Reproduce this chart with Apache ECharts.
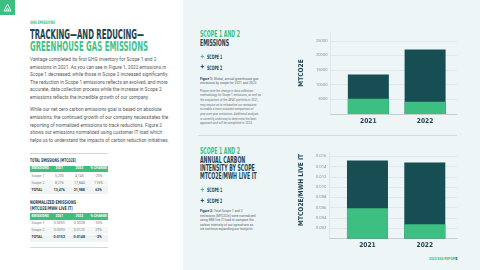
<!DOCTYPE html>
<html><head><meta charset="utf-8">
<script src="https://cdn.jsdelivr.net/npm/echarts@6.0.0/dist/echarts.min.js"></script>
<style>
html,body{margin:0;padding:0;background:#fff;}
#page{position:relative;width:480px;height:270px;overflow:hidden;background:#fff;}
.t{position:absolute;white-space:nowrap;line-height:1;transform-origin:0 50%;}
.r{position:absolute;}
#chart{position:absolute;left:290px;top:0;width:190px;height:270px;z-index:10;}
</style></head>
<body><div id="page"><div id="chart"></div></div>
<script>
// ---------- data ----------
const years = ['2021', '2022'];
const scope1Abs = [5200, 4145];
const scope2Abs = [8276, 17844];
const scope1Int = [0.0059, 0.0028];
const scope2Int = [0.0093, 0.0120];
const tableHead = ['EMISSIONS', '2021', '2022', '% CHANGE'];
const totalRows = [
  ['Scope 1', '5,200', '4,145', '-20%'],
  ['Scope 2', '8,276', '17,844', '116%'],
  ['TOTAL', '13,476', '21,988', '63%']
];
const normRows = [
  ['Scope 1', '0.0059', '0.0028', '-53%'],
  ['Scope 2', '0.0093', '0.0120', '29%'],
  ['TOTAL', '0.0152', '0.0148', '-3%']
];
const para1 = [
  'Vantage completed its first GHG inventory for Scope 1 and 2',
  'emissions in 2021. As you can see in Figure 1, 2022 emissions in',
  'Scope 1 decreased, while those in Scope 2 increased significantly.',
  'The reduction in Scope 1 emissions reflects an evolved, and more',
  'accurate, data collection process while the increase in Scope 2',
  'emissions reflects the incredible growth of our company.'
];
const para2 = [
  'While our net zero carbon emissions goal is based on absolute',
  'emissions, the continued growth of our company necessitates the',
  'reporting of normalized emissions to track reductions. Figure 2',
  'shows our emissions normalized using customer IT load which',
  'helps us to understand the impacts of carbon reduction initiatives.'
];
const cap1 = ['<b>Figure 1:</b> Global, annual greenhouse gas', 'emissions by scope for 2021 and 2022.'];
const note1 = [
  'Please note the change in data collection',
  'methodology for Scope 1 emissions, as well as',
  'the acquisition of the APAC portfolio in 2021,',
  'may require us to re-baseline our emissions',
  'to enable a more accurate comparison of',
  'year-over-year emissions. Additional analysis',
  'is currently underway to determine the best',
  'approach and will be completed in 2023.'
];
const cap2 = [
  '<b>Figure 2:</b> Total Scope 1 and 2',
  'emissions (MTCO2e) were normalized',
  'using MW live IT load to compare the',
  'carbon intensity of our operations as',
  'we continue expanding our footprint.'
];

// ---------- styles ----------
const COND = "'Liberation Sans Narrow','DejaVu Sans Condensed','Roboto Condensed',sans-serif";
const BODY = "Roboto,'Noto Sans',sans-serif";
const DARK = '#1c4450', GREEN = '#3dbf82', BARDARK = '#174e54', GRAY = '#5f6669';
const page = document.getElementById('page');

function rect(x, y, w, h, c) {
  const d = document.createElement('div'); d.className = 'r';
  Object.assign(d.style, {left: x + 'px', top: y + 'px', width: w + 'px', height: h + 'px', background: c});
  page.appendChild(d); return d;
}
function txt(s, x, y, o) {
  o = o || {};
  const d = document.createElement('div'); d.className = 't';
  if (o.html) d.innerHTML = s; else d.textContent = s;
  const size = o.size || 5;
  Object.assign(d.style, {left: x + 'px', top: (y - size * 0.5) + 'px', fontSize: size + 'px',
    fontFamily: o.fam || BODY, fontWeight: o.bold ? '700' : '400', color: o.color || GRAY});
  page.appendChild(d);
  if (o.align === 'center') { d.style.transform = 'translateX(-50%)'; d.style.transformOrigin = '50% 50%'; }
  return d;
}
function fitGroup(els, w, ref) {
  const widths = els.map(e => e.getBoundingClientRect().width);
  const m = ref !== undefined ? widths[ref] : Math.max(...widths);
  const k = w / m;
  els.forEach(e => { e.style.transform = 'scaleX(' + k + ')'; });
}

// ---------- backgrounds ----------
rect(183, 0, 297, 270, '#eef5f7');
rect(198, 135, 259, 0.8, '#d5dfe2');
const logo = rect(0, 0, 15, 15, GREEN);
logo.innerHTML = '<svg width="15" height="15"><path d="M4 11 L7.5 4 L11 11 Z M6 11 L7.5 8 L9 11" fill="none" stroke="#fff" stroke-width="0.9"/></svg>';

// ---------- left column ----------
fitGroup([txt('GHG EMISSIONS', 30, 23.3, {size: 4.8, fam: COND, bold: true, color: GREEN})], 25);
fitGroup([txt('TRACKING\u2014AND REDUCING\u2014', 30, 35, {size: 13.5, fam: COND, bold: true, color: DARK})], 114);
fitGroup([txt('GREENHOUSE GAS EMISSIONS', 30, 47, {size: 13.5, fam: COND, bold: true, color: '#45c28a'})], 118);

const bodyEls = [];
para1.forEach((s, i) => bodyEls.push(txt(s, 30, 60 + i * 7.52, {size: 5.3, color: '#555b5e'})));
para2.forEach((s, i) => bodyEls.push(txt(s, 30, 110 + i * 7.6, {size: 5.3, color: '#555b5e'})));
fitGroup(bodyEls, 139);

function table(title, y0, bandY, rowYs, rows) {
  const tEls = title.map((s, i) => txt(s, 30, y0 + i * 5.8, {size: 5.2, fam: COND, bold: true, color: DARK}));
  fitGroup(tEls, 46, 0);
  rect(30, bandY, 78.3, 6.4, GREEN);
  const cx = [null, 59.3, 79.3, 98.6];
  tableHead.forEach((h, j) => {
    if (j === 0) txt(h, 31.5, bandY + 3.2, {size: 3.3, bold: true, color: '#fff'});
    else txt(h, cx[j], bandY + 3.2, {size: 3.3, bold: true, color: '#fff', align: 'center'});
  });
  const bg = ['#ffffff', '#f5f7f7', '#f0f3f3'];
  rows.forEach((r, i) => {
    rect(30, rowYs[i] - 3.5, 78.3, 7, bg[i]);
  });
  rows.forEach((r, i) => {
    const tot = i === rows.length - 1;
    r.forEach((c, j) => {
      const o = {size: 3.6, bold: tot, color: tot ? '#2b3a3f' : '#7a8184'};
      if (j === 0) txt(c, 31.5, rowYs[i], o);
      else { o.align = 'center'; txt(c, cx[j], rowYs[i], o); }
    });
  });
}
rect(30, 153, 78.3, 0.8, '#cfd8db');
table(['TOTAL EMISSIONS (MTCO2E)'], 160.7, 165.7, [176.3, 183.3, 190.6], totalRows);
table(['NORMALIZED EMISSIONS', '(MTCO2E/MWH LIVE IT)'], 202.7, 213.3, [223.8, 230.9, 238], normRows);
rect(30, 247, 78.3, 0.8, '#cfd8db');

// ---------- right panel texts ----------
const head = [];
head.push(txt('SCOPE 1 AND 2', 200, 33.7, {size: 8.2, fam: COND, bold: true, color: GREEN}));
head.push(txt('EMISSIONS', 200, 43, {size: 8.2, fam: COND, bold: true, color: DARK}));
head.push(txt('SCOPE 1 AND 2', 199.5, 151.3, {size: 8.2, fam: COND, bold: true, color: GREEN}));
head.push(txt('ANNUAL CARBON', 199.5, 160.5, {size: 8.2, fam: COND, bold: true, color: DARK}));
head.push(txt('INTENSITY BY SCOPE', 199.5, 168.4, {size: 8.2, fam: COND, bold: true, color: DARK}));
head.push(txt('MTCO2E/MWH LIVE IT', 199.5, 176.3, {size: 8.2, fam: COND, bold: true, color: DARK}));
fitGroup(head, 29, 1);

const leg = [];
[[57.3, 190], [67.7, 201.3]].forEach((ys, k) => {
  ys.forEach(y => {
    txt('+', 202.3, y, {size: 6.5, bold: true, color: k === 0 ? GREEN : BARDARK, align: 'center'});
    leg.push(txt('SCOPE ' + (k + 1), 207, y, {size: 6, fam: COND, bold: true, color: DARK}));
  });
});
fitGroup(leg, 15.3, 0);

const small = [];
cap1.forEach((s, i) => small.push(txt(s, 200, 79.5 + i * 4.5, {size: 3.7, html: true, color: '#5a6266'})));
note1.forEach((s, i) => small.push(txt(s, 200, 91.3 + i * 4.65, {size: 3.3, color: '#6a7175'})));
cap2.forEach((s, i) => small.push(txt(s, 199.5, 212.3 + i * 4.45, {size: 3.7, html: true, color: '#5a6266'})));
fitGroup(small, 61);
Array.from(page.querySelectorAll('b')).forEach(b => { b.style.color = DARK; });

// footer
txt('2022 ESG REPORT', 429, 260, {size: 3.3, bold: true, color: GREEN});
txt('|', 452, 260, {size: 4, color: '#b0bcc0'});
txt('5', 455.5, 260, {size: 3.5, bold: true, color: DARK});

// ---------- charts ----------
const X0 = 290;
const chart = echarts.init(document.getElementById('chart'), null, {renderer: 'canvas'});
const totalAbs = years.map((y, i) => scope1Abs[i] + scope2Abs[i]);
const totalInt = years.map((y, i) => scope1Int[i] + scope2Int[i]);
function xAx(gi) {
  return {gridIndex: gi, type: 'value', min: -0.664, max: 1.562,
    axisLine: {show: true, onZero: false, lineStyle: {color: '#c5cfd2', width: 1}},
    axisTick: {show: false}, splitLine: {show: false},
    axisLabel: {customValues: [0, 1], formatter: v => years[v] || '', margin: 3.5,
      fontSize: 6.6, fontWeight: 'bold', fontFamily: COND, color: DARK}};
}
function yAx(gi, max, interval, name, fmt, pad) {
  return {gridIndex: gi, type: 'value', min: 0, max: max, interval: interval,
    name: name, nameLocation: 'middle', nameGap: 22,
    nameTextStyle: {fontFamily: COND, fontWeight: 'bold', fontSize: 6.6, color: DARK, padding: pad},
    axisLine: {show: true, onZero: false, lineStyle: {color: '#dde5e7', width: 0.8}},
    axisTick: {show: false},
    splitLine: {show: true, showMaxLine: false, lineStyle: {color: '#dde5e7', width: 0.8}},
    axisLabel: {showMinLabel: false, showMaxLabel: false, fontSize: 4.2, color: '#8a9294',
      fontFamily: BODY, margin: 3, formatter: fmt}};
}
chart.setOption({
  animation: false,
  grid: [
    {left: 327 - X0, right: 480 - 457, top: 32, height: 82},
    {left: 327 - X0, right: 480 - 457, top: 152.3, height: 86.2}
  ],
  xAxis: [xAx(0), xAx(1)],
  yAxis: [
    yAx(0, 28000, 5000, 'MTCO2E', v => String(v), [0, 0, 0, 0]),
    yAx(1, 0.0168, 0.002, 'MTCO2E/MWH LIVE IT', v => v.toFixed(3), [0, 0, 0, 11])
  ],
  series: [
    {type: 'bar', xAxisIndex: 0, yAxisIndex: 0, barWidth: 41, barGap: '-100%',
      data: years.map((y, i) => [i, totalAbs[i]]), itemStyle: {color: BARDARK}},
    {type: 'bar', xAxisIndex: 0, yAxisIndex: 0, barWidth: 41, barGap: '-100%',
      data: years.map((y, i) => [i, scope1Abs[i]]), itemStyle: {color: GREEN}},
    {type: 'bar', xAxisIndex: 1, yAxisIndex: 1, barWidth: 41, barGap: '-100%',
      data: years.map((y, i) => [i, totalInt[i]]), itemStyle: {color: BARDARK}},
    {type: 'bar', xAxisIndex: 1, yAxisIndex: 1, barWidth: 41, barGap: '-100%',
      data: years.map((y, i) => [i, scope1Int[i]]), itemStyle: {color: GREEN}}
  ]
});
</script>
</body></html>
